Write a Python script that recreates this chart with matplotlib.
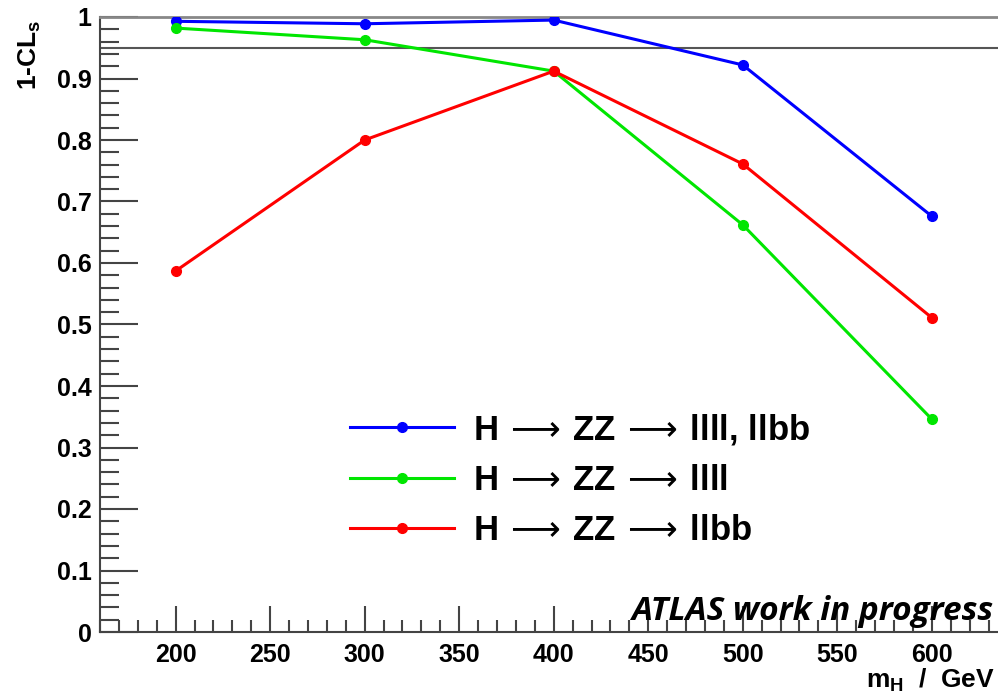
import matplotlib
matplotlib.use("Agg")
import matplotlib.pyplot as plt
from matplotlib.ticker import MultipleLocator

mass = [200, 300, 400, 500, 600]
combined = [0.993, 0.989, 0.995, 0.922, 0.676]
llll = [0.982, 0.963, 0.912, 0.662, 0.346]
llbb = [0.587, 0.800, 0.912, 0.761, 0.511]
labels = [r"H$\,\longrightarrow\,$ZZ$\,\longrightarrow\,$llll, llbb",
          r"H$\,\longrightarrow\,$ZZ$\,\longrightarrow\,$llll",
          r"H$\,\longrightarrow\,$ZZ$\,\longrightarrow\,$llbb"]
colors = ["#0000ff", "#00e600", "#ff0000"]

plt.rcParams['font.family'] = ['Liberation Sans', 'DejaVu Sans']
plt.rcParams['mathtext.fontset'] = 'dejavusans'

fig = plt.figure(figsize=(9.98, 6.95), dpi=100)
ax = fig.add_axes([100/998, 1-632/695, 898/998, 615/695])

lines = []
for ys, c, lab in zip([combined, llll, llbb], colors, labels):
    l, = ax.plot(mass, ys, '-o', color=c, lw=2.2, ms=7, label=lab, zorder=3)
    lines.append(l)

ax.axhline(0.95, color='#555555', lw=1.5, zorder=2)
ax.set_xlim(160, 635)
ax.set_ylim(0, 1.0)

ax.spines['right'].set_visible(False)
ax.spines['top'].set_color('#888888')
ax.spines['top'].set_linewidth(2)
for s in ['left', 'bottom']:
    ax.spines[s].set_color('#444444')
    ax.spines[s].set_linewidth(1.5)

ax.xaxis.set_major_locator(MultipleLocator(50))
ax.xaxis.set_minor_locator(MultipleLocator(10))
ax.yaxis.set_major_locator(MultipleLocator(0.1))
ax.yaxis.set_minor_locator(MultipleLocator(0.02))
ax.tick_params(axis='both', which='both', direction='in', colors='#444444',
               labelcolor='black', width=1.5)
ax.tick_params(axis='y', which='major', length=27, labelsize=18, pad=6)
ax.tick_params(axis='y', which='minor', length=14)
ax.tick_params(axis='x', which='major', length=19, labelsize=18, pad=8)
ax.tick_params(axis='x', which='minor', length=9)
ax.tick_params(top=False, right=False, which='both')
ax.yaxis.set_major_formatter(matplotlib.ticker.FuncFormatter(
    lambda v, p: "0" if abs(v) < 1e-9 else ("1" if abs(v-1) < 1e-9 else f"{v:.1f}")))
for t in ax.get_xticklabels() + ax.get_yticklabels():
    t.set_fontweight('bold')

fig.text(30/998, 1-55/695, r"1-CL$_\mathregular{s}$", rotation=90, fontsize=19,
         fontweight='bold', ha='center', va='center')
fig.text(995/998, 1-680/695, r"m$_\mathregular{H}$  /  GeV", fontsize=19,
         fontweight='bold', ha='right', va='center')

leg = ax.legend(handles=lines, loc='upper left', bbox_to_anchor=(236/898, (632-398)/615),
                frameon=False, prop={'size': 25, 'weight': 'bold'},
                handlelength=3.0, handletextpad=0.55, labelspacing=0.49, borderaxespad=0)

fig.text(993/998, 1-612/695, "ATLAS work in progress", fontsize=24,
         fontweight='bold', style='italic', family=['Open Sans', 'DejaVu Sans'],
         ha='right', va='center', zorder=5)

fig.savefig("out.png", dpi=100)
